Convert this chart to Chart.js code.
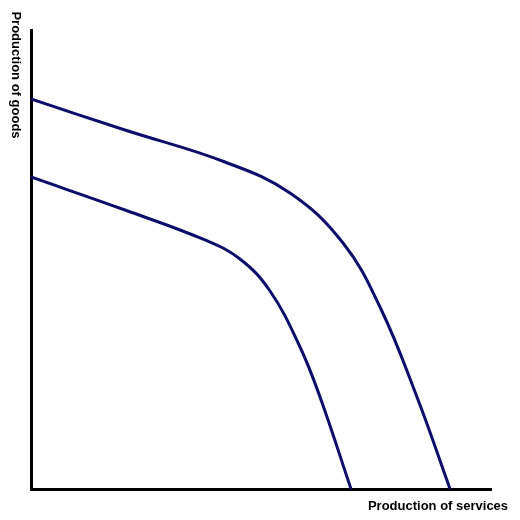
<!DOCTYPE html>
<html>
<head>
<meta charset="utf-8">
<script src="https://cdn.jsdelivr.net/npm/chart.js@4/dist/chart.umd.min.js"></script>
<style>
  html, body { margin: 0; padding: 0; background: #fff; }
  #wrap { width: 520px; height: 520px; }
</style>
</head>
<body>
<div id="wrap"><canvas id="ppf"></canvas></div>
<script>
// outer production possibility frontier (x = services, y = goods)
const outerX = [0, 20.43, 42.17, 56.30, 67.83, 75.87, 83.91, 91.09];
const outerY = [84.97, 78.21, 71.24, 64.49, 53.59, 39.65, 20.04, 0];
// inner frontier
const innerX = [0, 20.43, 37.83, 45.43, 51.96, 58.48, 62.83, 69.57];
const innerY = [67.97, 60.78, 54.25, 50.11, 43.14, 30.94, 20.04, 0];

const xLabel = 'Production of services';
const yLabel = 'Production of goods';

const lineColor = '#0d0d6b';

const toPoints = (xs, ys) => xs.map((x, i) => ({ x: x, y: ys[i] }));

// axis titles drawn by hand: y title reads top to bottom
const axisText = {
    id: 'axisText',
    afterDraw(chart) {
        const ctx = chart.ctx;
        ctx.save();
        ctx.fillStyle = '#000';
        ctx.font = 'bold 13px "Liberation Sans", Arial, sans-serif';
        ctx.textAlign = 'center';
        ctx.textBaseline = 'middle';
        ctx.fillText(xLabel, 438, 506);
        ctx.translate(16, 75);
        ctx.rotate(Math.PI / 2);
        ctx.fillText(yLabel, 0, 0);
        ctx.restore();
    }
};

const ctx = document.getElementById('ppf').getContext('2d');
new Chart(ctx, {
    type: 'scatter',
    data: {
        datasets: [
            {
                data: toPoints(outerX, outerY),
                showLine: true,
                borderColor: lineColor,
                borderWidth: 3,
                pointRadius: 0,
                tension: 0.4,
                fill: false,
            },
            {
                data: toPoints(innerX, innerY),
                showLine: true,
                borderColor: lineColor,
                borderWidth: 3,
                pointRadius: 0,
                tension: 0.4,
                fill: false,
            },
        ],
    },
    options: {
        responsive: true,
        maintainAspectRatio: false,
        animation: false,
        layout: { padding: { left: 31, top: 30, right: 29, bottom: 31 } },
        plugins: {
            legend: { display: false },
            tooltip: { enabled: false },
        },
        scales: {
            x: {
                type: 'linear',
                min: 0,
                max: 100,
                grid: { display: false, drawTicks: false },
                ticks: { display: false },
                border: { display: true, color: '#000', width: 3 },
            },
            y: {
                type: 'linear',
                min: 0,
                max: 100,
                grid: { display: false, drawTicks: false },
                ticks: { display: false },
                border: { display: true, color: '#000', width: 3 },
            },
        },
    },
    plugins: [axisText],
});
</script>
</body>
</html>
